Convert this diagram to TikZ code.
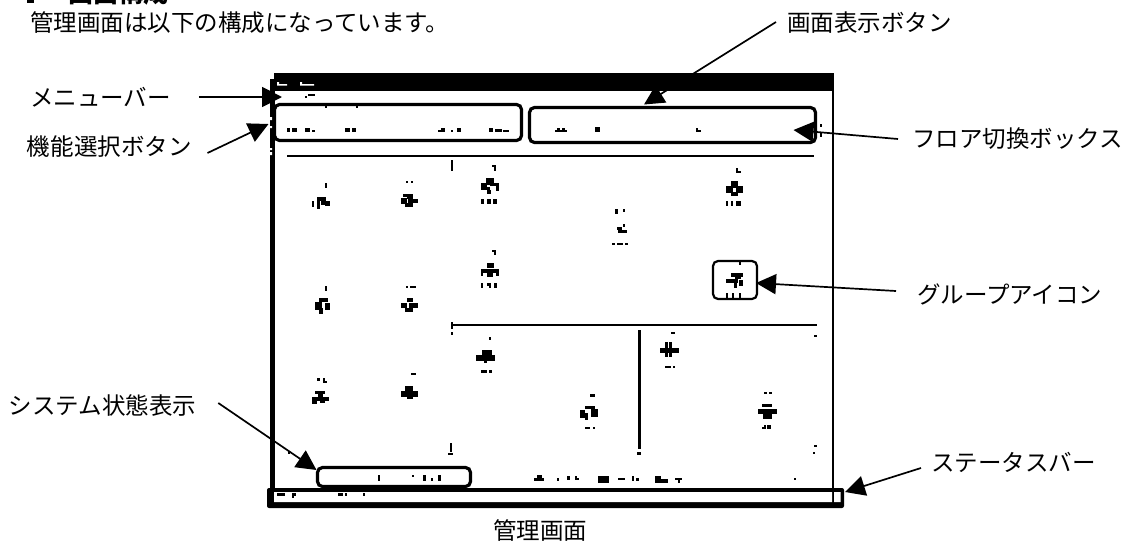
\documentclass[tikz,border=0pt]{standalone}
\usepackage{fontspec}
\setmainfont{Noto Sans CJK JP}
\usetikzlibrary{arrows.meta,calc}
\tikzset{
  lbl/.style={inner sep=0pt,outer sep=0pt,anchor=west,font=\fontsize{23.5}{23.5}\selectfont},
  rbox/.style={draw=black,fill=none,rounded corners=5pt,inner sep=0pt,outer sep=0pt,line width=3.2pt},
  arr/.style={-{Triangle[length=20pt,width=20pt]},line width=1.7pt,black},
  rule/.style={line width=2pt,black}
}
\newcommand{\specks}[1]{\foreach \xa/\ya/\xb/\yb in {#1}{\fill[black] (\xa,\ya) rectangle (\xb,\yb);}}
\begin{document}
\begin{tikzpicture}[x=1pt,y=-1pt]
\useasboundingbox (0,0) rectangle (1126,541);
\clip (0,0) rectangle (1126,541);
\fill[white] (0,0) rectangle (1126,541);
% heading (cut by the upper edge)
\node[inner sep=0pt,anchor=base west,font=\fontsize{25}{25}\selectfont\bfseries] (heading) at (68,2) {画面構成};
\specks{27/0/34/3}
% labels
\node[lbl] (intro) at (30,23) {管理画面は以下の構成になっています。};
\node[lbl] (lmenu) at (30,97) {メニューバー};
\node[lbl] (lfunc) at (27,147) {機能選択ボタン};
\node[lbl] (lscreen) at (787,23) {画面表示ボタン};
\node[lbl] (lfloor) at (912,139) {フロア切換ボックス};
\node[lbl] (lgroup) at (917,294) {グループアイコン};
\node[lbl] (lsystem) at (9,406) {システム状態表示};
\node[lbl] (lstatus) at (931,462) {ステータスバー};
\node[lbl] (lwindow) at (493,531) {管理画面};
% window
\fill[black] (274,73) rectangle (833.5,91);
\fill[black] (270,79) rectangle (274.5,492);
\fill[black] (832,73) rectangle (834.2,492);
\fill[white] (277,82) rectangle (279,84) (277,84) rectangle (287,85.5)
             (300,82) rectangle (302,84) (300,84) rectangle (314,85.5);
\fill[white] (270,117) rectangle (272,120) (270,126) rectangle (272,128)
             (270,148) rectangle (272,150) (270,152) rectangle (272,155);
% status bar
\node[fill=black,rounded corners=2pt,inner sep=0pt,outer sep=0pt,minimum width=577pt,minimum height=20pt] (statusbar) at (555.5,498) {};
\fill[white] (274,492) rectangle (832,502) (834.2,492) rectangle (840.5,502);
% outlined boxes
\node[rbox,minimum width=247pt,minimum height=36pt] (funcbox) at (398,122.5) {};
\node[rbox,minimum width=286pt,minimum height=35pt] (screenbox) at (672.5,125) {};
\node[rbox,line width=2.2pt,minimum width=44pt,minimum height=38pt] (groupbox) at (735,280) {};
\node[rbox,minimum width=153pt,minimum height=19pt] (sysbox) at (394,477) {};
% rules
\draw[rule] (287,156) -- (814,156);
\draw[rule,line width=2.6pt] (452,325) -- (817,325);
\draw[rule,line width=3pt] (639,330) -- (639,449);
\draw[rule,line width=2.2pt] (452,160) -- (452,171);
% specks: menu, button rows, status
\specks{308/94/315/95.5,305/96/307/98,325/106/327/108,356/106/358/108,
287/128/290/132,292/128/297/132,305/128/310/132,312/130/315/132,345/128/350/132,352/128/356/132,
438/130/445/132,441/128/445/130,451/130/453/132,457/128/461/132,489/128/493/132,495/129/502/132,503/130/509/132,
555/130/567/132,557/128/560/130,562/128/565/130,595/127/600/132,696/128/698/132,696/130/701/132,
820/124/822/127,820/133/822/137,
378/475/380/481,412/475/413.5/477,423/475/426/481,431/478/433/481,438/475/441/481,
534/478/544/481,537/475/542/478,557/478/559/481,567/476/570/480,575/476/577/480,575/478/579/480,
598/476/609/483,618/478/625/480,632/476/634/481,636/478/639/481,655/476/661/483,661/479/668/483,
675/478/682/480,678/480/680/483,794/478/796/480,
277/493/285/496,292/493/296/496,292/496/294/498,338/493/343/496,345/493/347/496,363/493/365/496,
288/452/290/454,450/443/452/452,448/453/453/455,451/322/453/329,451/332/453/335,
814/335/817/337,814/445/817/447,813/452/815/454,637/452/641/455}
% icon A
\specks{325/183/327/188,312/201/314/207,317/197/326/201,317/201/320/209,321/201/325/205,325/201/330/206}
% icon B
\specks{406/181/408/183,411/181/413/183,403/194/413/197,407/197/413/199,401/198/407/204,408/199/418/203,405/203/413/207}
% icon C
\specks{492/165/496/167,494/167/496/171,486/178/494/185,490/183/499/186,496/186/499/191,481/183/487/187,481/187/490/190,487/190/491/194,481/199/484/204,487/199/491/204,493/199/497/204}
% icon D
\specks{492/250/496/252,494/252/496/255,487/263/494/268,481/269/499/273,496/273/499/276,487/273/493/277,481/273/483/276,481/283/483/288,487/283/491/286,489/286/491/288,494/283/497/288}
% icon E
\specks{325/286/327/291,319/298/328/302,315/302/322/310,319/308/323/314,325/303/330/310}
% icon F
\specks{406/286/408/288,410/286/416/288,407/298/413/302,401/303/407/308,409/303/418/308,405/308/413/312}
% icon G
\specks{731/181/738/186,731/193/738/196,726/186/733/193,736/186/743/193,733/186/736/188,733/192/736/193,736/168/738/172,736/171/741/173,726/201/728/206,731/201/733/206,736/201/741/206}
% icon H
\specks{615/209/618/214,623/209/625/212,623/224/625/227,617/227/622/230,618/230/627/233,612/243/615/245,617/243/623/245,625/243/628/245}
% icon in group box
\specks{739/262/741/265,731/273/743/277,735/277/741/279,726/279/738/283,734/283/737/288,739/280/743/286,726/293/728/298,732/293/733.5/298,739/293/741/298}
% icon I
\specks{489/337/491/340,482/350/492/355,476/355/495/361,484/361/487/363,481/370/487/373,489/370/492/373}
% icon J
\specks{317/378/320/381,323/378/325/383,325/381/327/383,315/391/325/394,318/394/323/398,312/397/329/401,312/400/317/404,320/400/325/403}
% icon K
\specks{411/373/416/375,405/386/413/391,401/391/418/397,407/397/413/399}
% icon L
\specks{671/332/675/334,665/342/668/348,669/342/672/348,660/348/679/353,665/353/668/357,669/353/672/357,665/366/671/368,673/366/675/368}
% icon M
\specks{590/394/595/397,585/406/595/409,591/409/598/417,580/410/585/418,585/413/588/420,585/427/590/429,593/427/595/429}
% icon N
\specks{764/392/767/394,769/392/772/394,762/404/772/407,758/409/777/414,763/414/772/419,762/427/766/429,764/425/766/427,767/425/768.5/429,769/425/771/429}
% connectors
\draw[arr] ($(lmenu.east)+(28,0)$) -- ($(funcbox.north west)+(7.5,-7.5)$);
\draw[arr] ($(lfunc.east)+(16,6)$) -- ($(funcbox.west)+(-6,1.5)$);
\draw[arr] ($(lscreen.west)+(-11,-1)$) -- ($(screenbox.north)+(-28.5,-3)$);
\draw[arr] ($(lfloor.west)+(-14,0)$) -- ($(screenbox.east)+(-22,5)$);
\draw[arr] ($(lgroup.west)+(-21,-3)$) -- ($(groupbox.east)+(-1,3)$);
\draw[arr] ($(lsystem.east)+(22,-3)$) -- ($(sysbox.west)+(-1,-7)$);
\draw[arr] ($(lstatus.west)+(-10,6)$) -- ($(statusbar.east)+(1,-6)$);
\end{tikzpicture}
\end{document}
